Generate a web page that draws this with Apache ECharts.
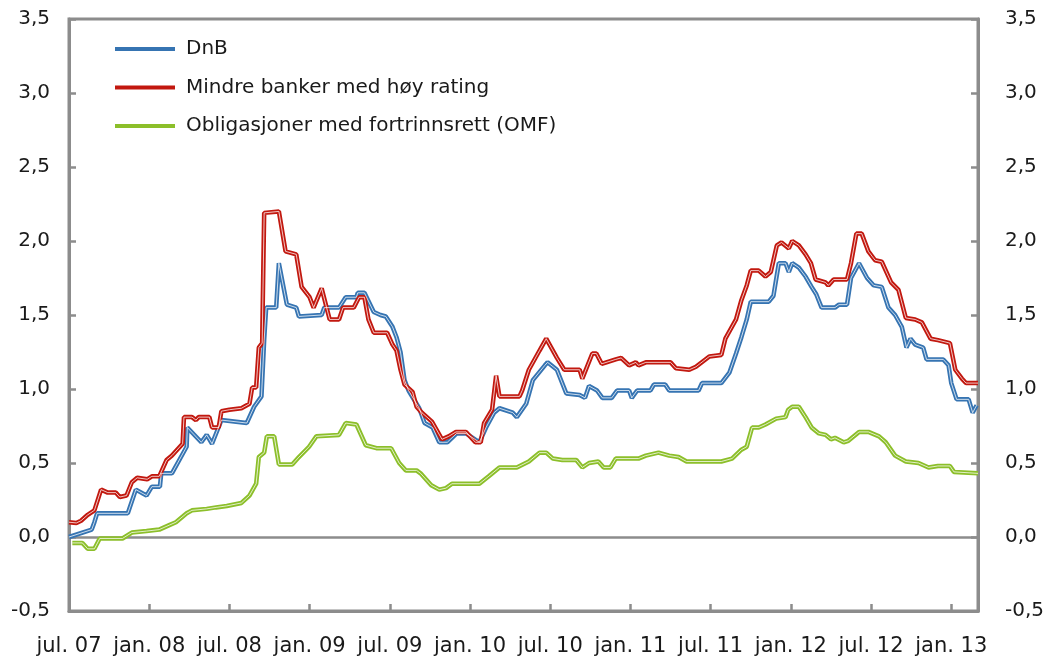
<!DOCTYPE html>
<html>
<head>
<meta charset="utf-8">
<script src="https://cdn.jsdelivr.net/npm/echarts@6/dist/echarts.min.js"></script>
<style>
html, body { margin: 0; padding: 0; background: #fff; }
#chart { width: 1048px; height: 657px; }
</style>
</head>
<body>
<div id="chart"></div>
<script>
// x = months since jul. 07
var tickLabels = ['jul. 07', 'jan. 08', 'jul. 08', 'jan. 09', 'jul. 09', 'jan. 10',
	'jul. 10', 'jan. 11', 'jul. 11', 'jan. 12', 'jul. 12', 'jan. 13'];
var names = ['DnB', 'Mindre banker med høy rating', 'Obligasjoner med fortrinnsrett (OMF)'];

var dnb = [[0,0.00],[1.7,0.05],[1.9,0.10],[2.1,0.16],[4.4,0.16],[5.0,0.32],[5.8,0.28],[6.2,0.34],[6.8,0.34],
	[6.9,0.43],[7.7,0.43],[8.8,0.61],[8.85,0.74],[9.9,0.64],[10.3,0.69],[10.7,0.63],[11.4,0.79],[13.3,0.77],
	[13.85,0.88],[14.4,0.95],[14.6,1.33],[14.75,1.55],[15.5,1.55],[15.7,1.85],[16.3,1.57],[17.0,1.55],[17.2,1.49],
	[18.9,1.50],[19.1,1.55],[20.2,1.55],[20.7,1.62],[21.5,1.62],[21.6,1.65],[22.1,1.65],[22.8,1.52],[23.3,1.50],
	[23.7,1.49],[24.2,1.42],[24.5,1.35],[24.8,1.25],[25.1,1.06],[25.4,0.99],[26.2,0.87],[26.6,0.77],[27.2,0.74],
	[27.7,0.64],[28.3,0.64],[29.0,0.70],[29.7,0.70],[30.7,0.64],[31.2,0.74],[31.8,0.84],[32.2,0.87],[33.2,0.84],
	[33.5,0.81],[34.2,0.90],[34.7,1.06],[35.6,1.16],[35.8,1.18],[36.5,1.13],[37.2,0.97],[38.2,0.96],[38.6,0.94],
	[38.9,1.02],[39.5,0.99],[39.9,0.94],[40.6,0.94],[41.0,0.99],[41.9,0.99],[42.1,0.94],[42.5,0.99],[43.5,0.99],
	[43.75,1.03],[44.6,1.03],[44.9,0.99],[47.1,0.99],[47.35,1.04],[48.8,1.04],[49.4,1.11],[49.9,1.24],[50.3,1.35],
	[50.7,1.47],[51.0,1.59],[52.35,1.59],[52.7,1.63],[53.1,1.85],[53.6,1.85],[53.85,1.79],[54.1,1.85],[54.6,1.82],
	[55.1,1.76],[55.55,1.69],[55.9,1.64],[56.3,1.55],[57.3,1.55],[57.6,1.57],[58.2,1.57],[58.5,1.75],[59.1,1.85],
	[59.7,1.75],[60.2,1.70],[60.8,1.69],[61.3,1.55],[61.8,1.50],[62.3,1.42],[62.65,1.28],[62.95,1.34],[63.3,1.30],
	[63.9,1.28],[64.15,1.20],[65.4,1.20],[65.8,1.16],[66.0,1.04],[66.4,0.93],[67.3,0.93],[67.6,0.84],[67.9,0.89]];

var mindre = [[0,0.10],[0.55,0.095],[0.9,0.11],[1.4,0.15],[1.9,0.18],[2.4,0.32],[2.9,0.30],[3.5,0.30],[3.8,0.27],
	[4.3,0.28],[4.7,0.37],[5.1,0.40],[5.85,0.39],[6.2,0.41],[6.75,0.41],[7.3,0.52],[7.7,0.55],[8.5,0.63],[8.6,0.81],
	[9.2,0.81],[9.5,0.79],[9.7,0.81],[10.5,0.81],[10.7,0.74],[11.2,0.74],[11.4,0.85],[12.0,0.86],[12.9,0.87],
	[13.5,0.90],[13.7,1.01],[14.0,1.01],[14.2,1.28],[14.45,1.31],[14.6,2.19],[15.7,2.20],[16.2,1.93],[17.0,1.91],
	[17.4,1.69],[18.0,1.62],[18.3,1.55],[18.9,1.68],[19.5,1.47],[20.2,1.47],[20.5,1.55],[21.3,1.55],[21.7,1.62],
	[22.1,1.62],[22.4,1.47],[22.8,1.38],[23.8,1.38],[24.2,1.30],[24.5,1.26],[24.8,1.13],[25.1,1.03],[25.7,0.98],
	[26.0,0.88],[26.4,0.84],[27.15,0.78],[27.9,0.66],[28.4,0.68],[28.95,0.71],[29.7,0.71],[30.4,0.64],[30.8,0.64],
	[31.05,0.77],[31.65,0.86],[31.95,1.09],[32.2,0.95],[33.7,0.95],[33.9,0.99],[34.4,1.13],[35.2,1.26],[35.7,1.34],
	[36.5,1.21],[37.05,1.13],[38.2,1.13],[38.4,1.07],[39.15,1.24],[39.45,1.24],[39.85,1.17],[40.9,1.20],[41.3,1.21],
	[41.9,1.16],[42.4,1.18],[42.6,1.16],[43.15,1.18],[45.0,1.18],[45.4,1.14],[46.4,1.13],[46.9,1.15],[47.9,1.22],
	[48.8,1.23],[49.1,1.34],[49.9,1.47],[50.3,1.60],[50.7,1.70],[51.0,1.80],[51.6,1.80],[52.1,1.76],[52.5,1.79],
	[52.95,1.97],[53.3,1.99],[53.85,1.95],[54.1,2.00],[54.6,1.97],[55.1,1.91],[55.5,1.85],[55.85,1.74],[56.6,1.72],
	[56.8,1.70],[57.2,1.74],[58.2,1.74],[58.5,1.85],[58.9,2.05],[59.3,2.05],[59.8,1.93],[60.3,1.87],[60.8,1.86],
	[61.5,1.72],[62.05,1.67],[62.6,1.48],[63.3,1.47],[63.8,1.45],[64.45,1.34],[65.0,1.33],[65.9,1.31],[66.3,1.13],
	[66.8,1.07],[67.1,1.04],[68.0,1.04]];

var omf = [[0.25,-0.04],[1.0,-0.04],[1.4,-0.08],[1.9,-0.08],[2.3,-0.01],[4.0,-0.01],[4.7,0.03],[5.8,0.04],
	[6.75,0.05],[7.5,0.08],[8.0,0.10],[8.8,0.16],[9.2,0.18],[10.3,0.19],[11.0,0.20],[11.8,0.21],[12.9,0.23],
	[13.5,0.28],[14.0,0.36],[14.2,0.54],[14.6,0.57],[14.8,0.68],[15.35,0.68],[15.7,0.49],[16.7,0.49],[17.2,0.54],
	[17.96,0.61],[18.5,0.68],[20.2,0.69],[20.7,0.77],[21.5,0.76],[22.2,0.62],[23.0,0.60],[24.1,0.60],[24.7,0.50],
	[25.2,0.45],[26.0,0.45],[26.3,0.43],[27.1,0.35],[27.7,0.32],[28.2,0.33],[28.65,0.36],[30.7,0.36],[31.4,0.41],
	[32.2,0.47],[33.5,0.47],[34.4,0.51],[35.2,0.57],[35.7,0.57],[36.2,0.53],[36.9,0.52],[37.95,0.52],[38.4,0.47],
	[38.9,0.50],[39.6,0.51],[40.0,0.47],[40.5,0.47],[40.9,0.53],[42.6,0.53],[43.15,0.55],[44.1,0.57],[44.9,0.55],
	[45.6,0.54],[46.2,0.51],[48.8,0.51],[49.6,0.53],[50.3,0.59],[50.7,0.61],[51.1,0.74],[51.6,0.74],[52.1,0.76],
	[52.9,0.80],[53.6,0.81],[53.8,0.86],[54.1,0.88],[54.6,0.88],[55.1,0.81],[55.55,0.74],[56.1,0.70],[56.6,0.69],
	[57.0,0.66],[57.3,0.67],[57.95,0.64],[58.3,0.65],[59.1,0.71],[59.8,0.71],[60.6,0.68],[61.1,0.64],[61.8,0.55],
	[62.6,0.51],[63.55,0.50],[64.3,0.47],[65.0,0.48],[65.9,0.48],[66.2,0.44],[68.0,0.43]];

var colors = ['#3674b2', '#c2180f', '#8cbf2a'];
var axisGray = '#8c8c8c';
var font = 'DejaVu Sans';

function fmtY(v) {
	return v.toFixed(1).replace('.', ',');
}

function outer(name, data, color) {
	return {
		name : name,
		type : 'line',
		data : data,
		symbol : 'none',
		color : color,
		lineStyle : { color : color, width : 4.5 },
		z : 3
	};
}
function inner(name, data) {
	return {
		name : name + ' ',
		type : 'line',
		data : data,
		symbol : 'none',
		silent : true,
		lineStyle : { color : '#ffffff', width : 1, opacity : 0.75 },
		z : 4
	};
}

var yAxisCommon = {
	type : 'value',
	min : -0.5,
	max : 3.5,
	interval : 0.5,
	splitLine : { show : false },
	axisLine : { show : true, lineStyle : { color : axisGray, width : 3 } },
	axisTick : { show : true, inside : true, length : 7, lineStyle : { color : axisGray, width : 2.5 } }
};

var dom = document.getElementById('chart');
var myChart = echarts.init(dom, null, { renderer : 'canvas' });
var option = {
	animation : false,
	textStyle : { fontFamily : font },
	grid : {
		left : 69, right : 70, top : 19, bottom : 46,
		show : true, borderColor : axisGray, borderWidth : 3
	},
	legend : {
		orient : 'vertical',
		left : 110,
		top : 34,
		data : names,
		icon : 'rect',
		itemWidth : 60,
		itemHeight : 4,
		itemGap : 18.5,
		textStyle : { fontFamily : font, fontSize : 20, lineHeight : 20, color : '#1a1a1a', padding : [0, 0, 0, 6] }
	},
	xAxis : {
		type : 'value',
		min : 0,
		max : 68,
		interval : 6,
		splitLine : { show : false },
		axisLine : { show : true, onZero : false, lineStyle : { color : axisGray, width : 3 } },
		axisTick : { show : true, inside : true, length : 7, lineStyle : { color : axisGray, width : 2.5 } },
		axisLabel : {
			showMaxLabel : false,
			margin : 25,
			fontFamily : font,
			fontSize : 21,
			color : '#1a1a1a',
			formatter : function(v) {
				return v % 6 === 0 ? (tickLabels[v / 6] || '') : '';
			}
		}
	},
	yAxis : [
		Object.assign({}, yAxisCommon, {
			position : 'left',
			axisLabel : { margin : 19, fontFamily : font, fontSize : 20, color : '#1a1a1a', formatter : fmtY }
		}),
		Object.assign({}, yAxisCommon, {
			position : 'right',
			axisLabel : { margin : 27, fontFamily : font, fontSize : 20, color : '#1a1a1a', formatter : fmtY }
		})
	],
	series : [
		Object.assign(outer(names[0], dnb, colors[0]), {
			markLine : {
				silent : true,
				symbol : 'none',
				label : { show : false },
				lineStyle : { color : axisGray, width : 2.5, type : 'solid' },
				data : [ { yAxis : 0 } ],
				z : 2
			}
		}),
		inner(names[0], dnb),
		outer(names[1], mindre, colors[1]),
		inner(names[1], mindre),
		outer(names[2], omf, colors[2]),
		inner(names[2], omf)
	]
};
myChart.setOption(option);
</script>
</body>
</html>
